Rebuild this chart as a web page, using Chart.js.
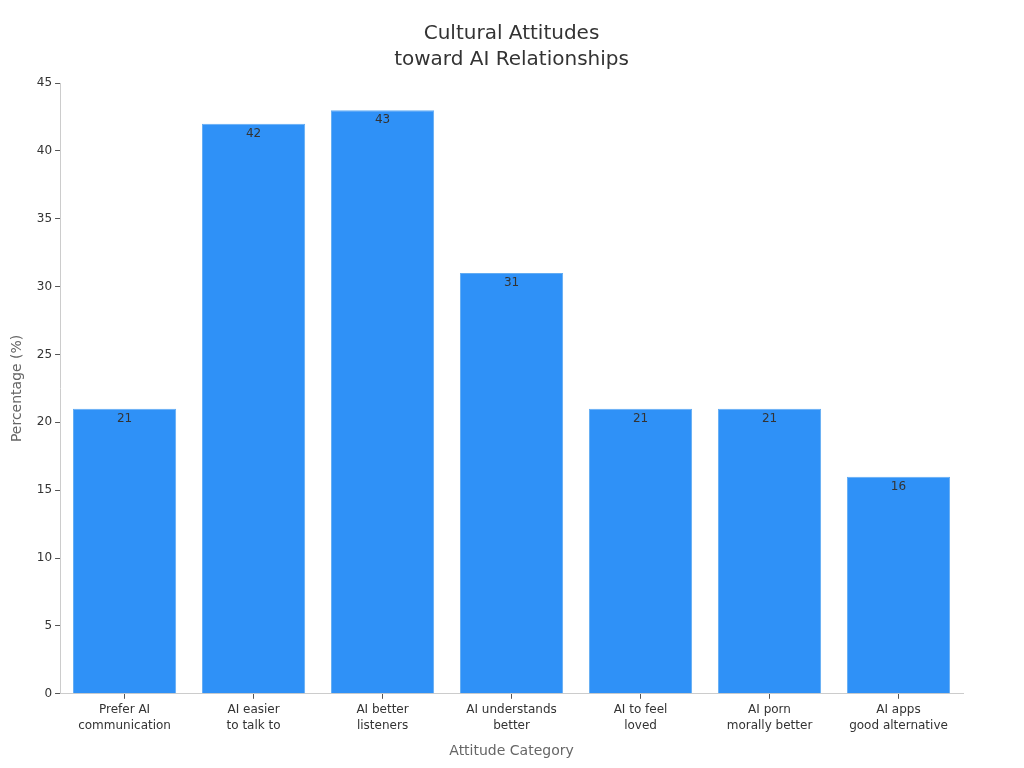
<!DOCTYPE html>
<html><head><meta charset="utf-8">
<script src="https://cdn.jsdelivr.net/npm/chart.js@4/dist/chart.umd.min.js"></script>
<style>html,body{margin:0;padding:0;background:#fff}#w{width:1024px;height:768px}</style>
</head><body><div id="w"><canvas id="c"></canvas></div>
<script>
const categories = [["Prefer AI","communication"],["AI easier","to talk to"],["AI better","listeners"],["AI understands","better"],["AI to feel","loved"],["AI porn","morally better"],["AI apps","good alternative"]];
const values = [21, 42, 43, 31, 21, 21, 16];
const yTicks = [0,5,10,15,20,25,30,35,40,45];
const titleLines = ['Cultural Attitudes', 'toward AI Relationships'];

const FONT = "'DejaVu Sans', sans-serif";
const valueLabels = {
  id: 'valueLabels',
  afterDatasetsDraw(chart) {
    const ctx = chart.ctx;
    const meta = chart.getDatasetMeta(0);
    ctx.save();
    ctx.font = "12px " + FONT;
    ctx.fillStyle = '#333';
    ctx.textAlign = 'center';
    ctx.textBaseline = 'middle';
    meta.data.forEach((bar, i) => {
      ctx.fillText(String(values[i]), bar.x, bar.y + 10);
    });
    ctx.restore();
  }
};
const centeredTitle = {
  id: 'centeredTitle',
  afterDraw(chart) {
    const ctx = chart.ctx;
    ctx.save();
    ctx.font = "20px " + FONT;
    ctx.fillStyle = '#333';
    ctx.textAlign = 'center';
    ctx.textBaseline = 'middle';
    const cx = (chart.chartArea.left + chart.chartArea.right) / 2;
    titleLines.forEach((t, i) => ctx.fillText(t, cx, 34 + i * 26));
    ctx.restore();
  }
};

new Chart(document.getElementById('c'), {
  type: 'bar',
  data: {
    labels: categories,
    datasets: [{
      data: values,
      backgroundColor: '#2f91f7',
      borderColor: '#62acf3',
      borderWidth: 1,
      barPercentage: 0.8,
      categoryPercentage: 1.0
    }]
  },
  options: {
    responsive: true,
    maintainAspectRatio: false,
    animation: false,
    layout: { padding: { left: 9, right: 61, top: 0, bottom: 8 } },
    plugins: {
      legend: { display: false },
      tooltip: { enabled: false },
      title: {
        display: true,
        text: titleLines,
        color: 'rgba(0,0,0,0)',
        font: { family: FONT, size: 20, weight: 'normal', lineHeight: 1.3 },
        padding: { top: 19, bottom: 12 }
      }
    },
    scales: {
      x: {
        grid: { display: true, offset: false, drawOnChartArea: false, drawTicks: true, tickLength: 5, color: '#555' },
        border: { display: true, color: '#ccc' },
        ticks: { color: '#333', font: { family: FONT, size: 12, lineHeight: 1.35 }, maxRotation: 0, padding: 3 },
        title: { display: true, text: 'Attitude Category', color: '#666', font: { family: FONT, size: 14 }, padding: { top: 6, bottom: 0 } }
      },
      y: {
        min: 0, max: 45,
        afterBuildTicks(axis) { axis.ticks = yTicks.map(v => ({ value: v })); },
        grid: { display: true, drawOnChartArea: false, drawTicks: true, tickLength: 5, color: '#555' },
        border: { display: true, color: '#ccc' },
        ticks: { color: '#333', font: { family: FONT, size: 12 }, padding: 3 },
        title: { display: true, text: 'Percentage (%)', color: '#666', font: { family: FONT, size: 14 }, padding: { top: 0, bottom: 8 } }
      }
    }
  },
  plugins: [valueLabels, centeredTitle]
});
</script></body></html>
